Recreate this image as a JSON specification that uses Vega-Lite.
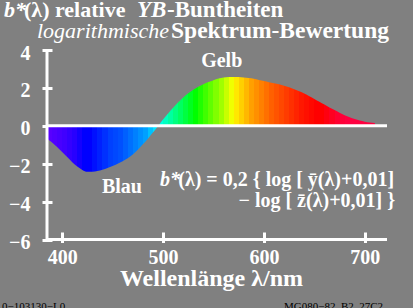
{
  "$schema": "https://vega.github.io/schema/vega-lite/v6.json",
  "width": 340,
  "height": 189.5,
  "autosize": {"type": "none"},
  "padding": {"left": 47, "top": 50, "right": 26, "bottom": 68.5},
  "background": "#808080",
  "config": {
    "view": {"stroke": null},
    "font": "Liberation Serif",
    "axis": {"labelOverlap": false, "grid": false, "domain": false,
             "tickColor": "white", "tickWidth": 3, "labelColor": "white", "labelFont": "Liberation Serif",
             "labelFontSize": 20, "labelFontWeight": "bold", "labelFlush": false,
             "titleColor": "white", "titleFont": "Liberation Serif", "titleFontWeight": "bold"},
    "axisY": {"offset": -5, "tickSize": 10, "labelPadding": 12, "labelOffset": 3, "title": null},
    "axisX": {"offset": -7.5, "tickSize": 10.5, "labelPadding": 5, "titleFontSize": 24,
              "titleX": 164, "titleY": 53.5, "titleAlign": "center", "titleBaseline": "alphabetic"}
  },
  "layer": [
    {
      "data": {"values": [
        {"wl": 385, "b": -0.67}, {"wl": 390, "b": -0.88}, {"wl": 395, "b": -1.12}, {"wl": 400, "b": -1.38},
        {"wl": 405, "b": -1.65}, {"wl": 410, "b": -1.92}, {"wl": 415, "b": -2.15}, {"wl": 420, "b": -2.33},
        {"wl": 425, "b": -2.43}, {"wl": 430, "b": -2.43}, {"wl": 435, "b": -2.39}, {"wl": 440, "b": -2.32},
        {"wl": 445, "b": -2.23}, {"wl": 450, "b": -2.12}, {"wl": 455, "b": -2.0}, {"wl": 460, "b": -1.87},
        {"wl": 465, "b": -1.71}, {"wl": 470, "b": -1.52}, {"wl": 475, "b": -1.27}, {"wl": 480, "b": -0.98},
        {"wl": 485, "b": -0.68}, {"wl": 490, "b": -0.36}, {"wl": 495, "b": -0.02}, {"wl": 500, "b": 0.33},
        {"wl": 505, "b": 0.65}, {"wl": 510, "b": 0.95}, {"wl": 515, "b": 1.24}, {"wl": 520, "b": 1.5},
        {"wl": 525, "b": 1.72}, {"wl": 530, "b": 1.9}, {"wl": 535, "b": 2.06}, {"wl": 540, "b": 2.19},
        {"wl": 545, "b": 2.31}, {"wl": 550, "b": 2.41}, {"wl": 555, "b": 2.49}, {"wl": 560, "b": 2.55},
        {"wl": 565, "b": 2.58}, {"wl": 570, "b": 2.58}, {"wl": 575, "b": 2.57}, {"wl": 580, "b": 2.55},
        {"wl": 585, "b": 2.52}, {"wl": 590, "b": 2.48}, {"wl": 595, "b": 2.42}, {"wl": 600, "b": 2.36},
        {"wl": 605, "b": 2.3}, {"wl": 610, "b": 2.25}, {"wl": 615, "b": 2.19}, {"wl": 620, "b": 2.11},
        {"wl": 625, "b": 2.03}, {"wl": 630, "b": 1.93}, {"wl": 635, "b": 1.82}, {"wl": 640, "b": 1.7},
        {"wl": 645, "b": 1.56}, {"wl": 650, "b": 1.42}, {"wl": 655, "b": 1.27}, {"wl": 660, "b": 1.12},
        {"wl": 665, "b": 0.97}, {"wl": 670, "b": 0.83}, {"wl": 675, "b": 0.69}, {"wl": 680, "b": 0.56},
        {"wl": 685, "b": 0.45}, {"wl": 690, "b": 0.36}, {"wl": 695, "b": 0.28}, {"wl": 700, "b": 0.22},
        {"wl": 705, "b": 0.18}, {"wl": 710, "b": 0.15}
      ]},
      "mark": {
        "type": "area",
        "interpolate": "monotone",
        "color": {
          "gradient": "linear", "x1": 0, "y1": 0, "x2": 1, "y2": 0,
          "stops": [
            {"offset": 0, "color": "#5800ff"}, {"offset": 0.01538, "color": "#5800ff"},
            {"offset": 0.01538, "color": "#5000ff"}, {"offset": 0.03077, "color": "#5000ff"},
            {"offset": 0.03077, "color": "#4800ff"}, {"offset": 0.04615, "color": "#4800ff"},
            {"offset": 0.04615, "color": "#4000ff"}, {"offset": 0.06154, "color": "#4000ff"},
            {"offset": 0.06154, "color": "#3400ff"}, {"offset": 0.07692, "color": "#3400ff"},
            {"offset": 0.07692, "color": "#2800ff"}, {"offset": 0.09231, "color": "#2800ff"},
            {"offset": 0.09231, "color": "#1400ff"}, {"offset": 0.10769, "color": "#1400ff"},
            {"offset": 0.10769, "color": "#0000ff"}, {"offset": 0.13846, "color": "#0000ff"},
            {"offset": 0.13846, "color": "#0010ff"}, {"offset": 0.15385, "color": "#0010ff"},
            {"offset": 0.15385, "color": "#0020ff"}, {"offset": 0.16923, "color": "#0020ff"},
            {"offset": 0.16923, "color": "#0030ff"}, {"offset": 0.18462, "color": "#0030ff"},
            {"offset": 0.18462, "color": "#0040ff"}, {"offset": 0.2, "color": "#0040ff"},
            {"offset": 0.2, "color": "#0048ff"}, {"offset": 0.21538, "color": "#0048ff"},
            {"offset": 0.21538, "color": "#0050ff"}, {"offset": 0.23077, "color": "#0050ff"},
            {"offset": 0.23077, "color": "#0060ff"}, {"offset": 0.24615, "color": "#0060ff"},
            {"offset": 0.24615, "color": "#0070ff"}, {"offset": 0.26154, "color": "#0070ff"},
            {"offset": 0.26154, "color": "#0080ff"}, {"offset": 0.27692, "color": "#0080ff"},
            {"offset": 0.27692, "color": "#0090ff"}, {"offset": 0.29231, "color": "#0090ff"},
            {"offset": 0.29231, "color": "#00a0ff"}, {"offset": 0.30769, "color": "#00a0ff"},
            {"offset": 0.30769, "color": "#00c0ff"}, {"offset": 0.32308, "color": "#00c0ff"},
            {"offset": 0.32308, "color": "#00e0ff"}, {"offset": 0.33846, "color": "#00e0ff"},
            {"offset": 0.33846, "color": "#00ffe0"}, {"offset": 0.35385, "color": "#00ffe0"},
            {"offset": 0.35385, "color": "#00ffc0"}, {"offset": 0.36923, "color": "#00ffc0"},
            {"offset": 0.36923, "color": "#00ffa0"}, {"offset": 0.38462, "color": "#00ffa0"},
            {"offset": 0.38462, "color": "#00ff80"}, {"offset": 0.4, "color": "#00ff80"},
            {"offset": 0.4, "color": "#00ff60"}, {"offset": 0.41538, "color": "#00ff60"},
            {"offset": 0.41538, "color": "#00ff40"}, {"offset": 0.43077, "color": "#00ff40"},
            {"offset": 0.43077, "color": "#00ff20"}, {"offset": 0.44615, "color": "#00ff20"},
            {"offset": 0.44615, "color": "#00ff00"}, {"offset": 0.46154, "color": "#00ff00"},
            {"offset": 0.46154, "color": "#20ff00"}, {"offset": 0.47692, "color": "#20ff00"},
            {"offset": 0.47692, "color": "#40ff00"}, {"offset": 0.49231, "color": "#40ff00"},
            {"offset": 0.49231, "color": "#60ff00"}, {"offset": 0.50769, "color": "#60ff00"},
            {"offset": 0.50769, "color": "#80ff00"}, {"offset": 0.52308, "color": "#80ff00"},
            {"offset": 0.52308, "color": "#a0ff00"}, {"offset": 0.53846, "color": "#a0ff00"},
            {"offset": 0.53846, "color": "#c8ff00"}, {"offset": 0.55385, "color": "#c8ff00"},
            {"offset": 0.55385, "color": "#f0ff00"}, {"offset": 0.56923, "color": "#f0ff00"},
            {"offset": 0.56923, "color": "#ffe800"}, {"offset": 0.58462, "color": "#ffe800"},
            {"offset": 0.58462, "color": "#ffd000"}, {"offset": 0.6, "color": "#ffd000"},
            {"offset": 0.6, "color": "#ffb800"}, {"offset": 0.61538, "color": "#ffb800"},
            {"offset": 0.61538, "color": "#ffa000"}, {"offset": 0.63077, "color": "#ffa000"},
            {"offset": 0.63077, "color": "#ff9000"}, {"offset": 0.64615, "color": "#ff9000"},
            {"offset": 0.64615, "color": "#ff8000"}, {"offset": 0.66154, "color": "#ff8000"},
            {"offset": 0.66154, "color": "#ff7000"}, {"offset": 0.67692, "color": "#ff7000"},
            {"offset": 0.67692, "color": "#ff6000"}, {"offset": 0.69231, "color": "#ff6000"},
            {"offset": 0.69231, "color": "#ff5400"}, {"offset": 0.70769, "color": "#ff5400"},
            {"offset": 0.70769, "color": "#ff4800"}, {"offset": 0.72308, "color": "#ff4800"},
            {"offset": 0.72308, "color": "#ff3c00"}, {"offset": 0.73846, "color": "#ff3c00"},
            {"offset": 0.73846, "color": "#ff3000"}, {"offset": 0.75385, "color": "#ff3000"},
            {"offset": 0.75385, "color": "#ff2400"}, {"offset": 0.76923, "color": "#ff2400"},
            {"offset": 0.76923, "color": "#ff1800"}, {"offset": 0.78462, "color": "#ff1800"},
            {"offset": 0.78462, "color": "#ff1000"}, {"offset": 0.8, "color": "#ff1000"},
            {"offset": 0.8, "color": "#ff0800"}, {"offset": 0.81538, "color": "#ff0800"},
            {"offset": 0.81538, "color": "#ff0000"}, {"offset": 0.84615, "color": "#ff0000"},
            {"offset": 0.84615, "color": "#ff0010"}, {"offset": 0.86154, "color": "#ff0010"},
            {"offset": 0.86154, "color": "#ff0020"}, {"offset": 0.87692, "color": "#ff0020"},
            {"offset": 0.87692, "color": "#ff0030"}, {"offset": 0.89231, "color": "#ff0030"},
            {"offset": 0.89231, "color": "#ff0038"}, {"offset": 0.90769, "color": "#ff0038"},
            {"offset": 0.90769, "color": "#ff0040"}, {"offset": 1, "color": "#ff0040"}
          ]
        }
      },
      "encoding": {
        "x": {
          "field": "wl", "type": "quantitative",
          "scale": {"domain": [385, 722], "nice": false, "zero": false},
          "axis": {"values": [400, 500, 600, 700], "tickCount": 10, "title": "Wellenlänge λ/nm"}
        },
        "y": {
          "field": "b", "type": "quantitative",
          "scale": {"domain": [-6, 4], "nice": false},
          "axis": {"values": [-6, -4, -2, 0, 2, 4], "tickCount": 12, "title": null, "labelOverlap": false}
        }
      }
    },
    {
      "data": {"values": [{}]},
      "mark": {"type": "rule", "color": "white", "strokeWidth": 3},
      "encoding": {"x": {"datum": 385}, "x2": {"datum": 722}, "y": {"datum": 0}}
    },
    {
      "data": {"values": [{}]},
      "mark": {"type": "rule", "color": "white", "strokeWidth": 3},
      "encoding": {"x": {"datum": 385}, "y": {"datum": -6}, "y2": {"datum": 4}}
    },
    {
      "data": {"values": [{}]},
      "mark": {"type": "rule", "color": "white", "strokeWidth": 3},
      "encoding": {"x": {"datum": 385}, "x2": {"datum": 722}, "y": {"datum": -6}}
    },
    {
      "data": {"values": [{}]},
      "mark": {"type": "text", "text": "b*", "fontSize": 22, "fontWeight": "bold", "fontStyle": "italic", "color": "white", "align": "left", "baseline": "alphabetic"},
      "encoding": {"x": {"datum": 342.4}, "y": {"datum": 5.74}}
    },
    {
      "data": {"values": [{}]},
      "mark": {"type": "text", "text": "(λ) relative", "fontSize": 22, "fontWeight": "bold", "color": "white", "align": "left", "baseline": "alphabetic"},
      "encoding": {"x": {"datum": 362.2}, "y": {"datum": 5.74}}
    },
    {
      "data": {"values": [{}]},
      "mark": {"type": "text", "text": "YB", "fontSize": 23, "fontWeight": "bold", "fontStyle": "italic", "color": "white", "align": "left", "baseline": "alphabetic"},
      "encoding": {"x": {"datum": 474.2}, "y": {"datum": 5.74}}
    },
    {
      "data": {"values": [{}]},
      "mark": {"type": "text", "text": "-Buntheiten", "fontSize": 23, "fontWeight": "bold", "color": "white", "align": "left", "baseline": "alphabetic"},
      "encoding": {"x": {"datum": 504.0}, "y": {"datum": 5.74}}
    },
    {
      "data": {"values": [{}]},
      "mark": {"type": "text", "text": "logarithmische", "fontSize": 22, "fontStyle": "italic", "color": "white", "align": "left", "baseline": "alphabetic"},
      "encoding": {"x": {"datum": 375.1}, "y": {"datum": 4.64}}
    },
    {
      "data": {"values": [{}]},
      "mark": {"type": "text", "text": "Spektrum-Bewertung", "fontSize": 23.5, "fontWeight": "bold", "color": "white", "align": "left", "baseline": "alphabetic"},
      "encoding": {"x": {"datum": 507.9}, "y": {"datum": 4.64}}
    },
    {
      "data": {"values": [{}]},
      "mark": {"type": "text", "text": "Gelb", "fontSize": 20, "fontWeight": "bold", "color": "white", "align": "center", "baseline": "alphabetic"},
      "encoding": {"x": {"datum": 558.2}, "y": {"datum": 3.087}}
    },
    {
      "data": {"values": [{}]},
      "mark": {"type": "text", "text": "Blau", "fontSize": 20, "fontWeight": "bold", "color": "white", "align": "center", "baseline": "alphabetic"},
      "encoding": {"x": {"datum": 459.3}, "y": {"datum": -3.55}}
    },
    {
      "data": {"values": [{}]},
      "mark": {"type": "text", "text": "b*", "fontSize": 20, "fontWeight": "bold", "fontStyle": "italic", "color": "white", "align": "left", "baseline": "alphabetic"},
      "encoding": {"x": {"datum": 497.0}, "y": {"datum": -3.2}}
    },
    {
      "data": {"values": [{}]},
      "mark": {"type": "text", "text": "(λ) = 0,2 { log [ ȳ(λ)+0,01]", "fontSize": 20, "fontWeight": "bold", "color": "white", "align": "right", "baseline": "alphabetic"},
      "encoding": {"x": {"datum": 729.0}, "y": {"datum": -3.2}}
    },
    {
      "data": {"values": [{}]},
      "mark": {"type": "text", "text": "− log [ z̄(λ)+0,01] }", "fontSize": 20, "fontWeight": "bold", "color": "white", "align": "right", "baseline": "alphabetic"},
      "encoding": {"x": {"datum": 730.0}, "y": {"datum": -4.3}}
    },
    {
      "data": {"values": [{}]},
      "mark": {"type": "text", "text": "0−103130−L0", "fontSize": 11, "color": "black", "align": "left", "baseline": "alphabetic"},
      "encoding": {"x": {"datum": 340.4}, "y": {"datum": -9.72}}
    },
    {
      "data": {"values": [{}]},
      "mark": {"type": "text", "text": "MG080−82, B2, 27C2", "fontSize": 11, "color": "black", "align": "right", "baseline": "alphabetic"},
      "encoding": {"x": {"datum": 718.1}, "y": {"datum": -9.72}}
    }
  ]
}
